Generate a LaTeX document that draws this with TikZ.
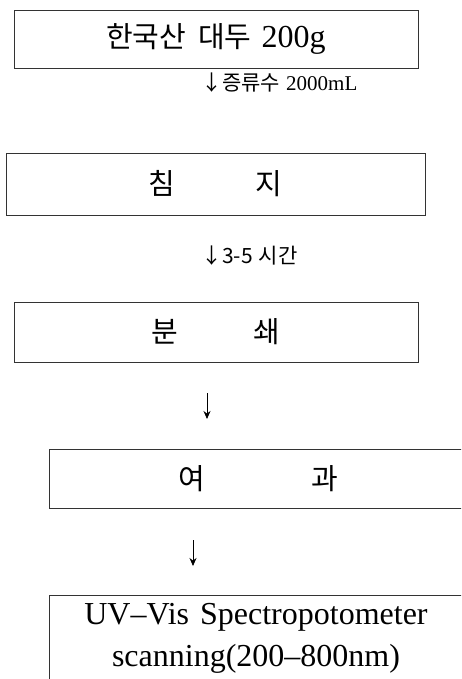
\documentclass[tikz,border=0pt]{standalone}
\usepackage{fontspec}
\setmainfont{Liberation Serif}
\newfontfamily\kr{Noto Sans CJK KR}
\usetikzlibrary{arrows.meta}
\begin{document}
\begin{tikzpicture}[x=1pt,y=-1pt,
  box/.style={draw=black!80, line width=0.8pt, inner sep=0pt, align=center},
  big/.style={font=\fontsize{32}{42}\selectfont},
  krbig/.style={font=\kr\fontsize{29}{32}\selectfont},
  lbl/.style={inner sep=0pt, anchor=west},
  flow/.style={-{Stealth[length=8pt,width=7pt]}, line width=0.8pt}]
\useasboundingbox (0,0) rectangle (461,679);
\clip (0,0) rectangle (461,679);
% boxes
\node[box, big, minimum width=404pt, minimum height=58pt] (b1) at (216,39)
  {{\kr\fontsize{29}{32}\selectfont 한국산\hspace{12pt}대두}\hspace{10pt}200g};
\node[box, krbig, minimum width=419pt, minimum height=62pt] (b2) at (215.5,184)
  {침\hspace{80pt}지};
\node[box, krbig, minimum width=404pt, minimum height=60pt] (b3) at (216,332)
  {분\hspace{75pt}쇄};
\node[box, krbig, minimum width=418pt, minimum height=59pt] (b4) at (258,478.5)
  {여\hspace{106pt}과};
\node[box, big, anchor=north, minimum width=414pt, inner ysep=8pt, text depth=70pt] (b5) at (256,595)
  {UV–Vis\hspace{3pt} Spectropotometer\\scanning(200–800nm)};
% labels
\node[lbl, font=\fontsize{21}{25}\selectfont] (l1) at (201,83)
  {{\kr ↓증류수}\hspace{6pt}2000mL};
\node[lbl, font=\kr\fontsize{21}{25}\selectfont] (l2) at (201,256)
  {↓3-5\hspace{6pt}시간};
% arrows
\coordinate (a3s) at (207,393);
\coordinate (a3e) at (207,419);
\coordinate (a4s) at (193,540);
\coordinate (a4e) at (193,566);
\draw[flow] (a3s) -- (a3e);
\draw[flow] (a4s) -- (a4e);
\end{tikzpicture}
\end{document}
